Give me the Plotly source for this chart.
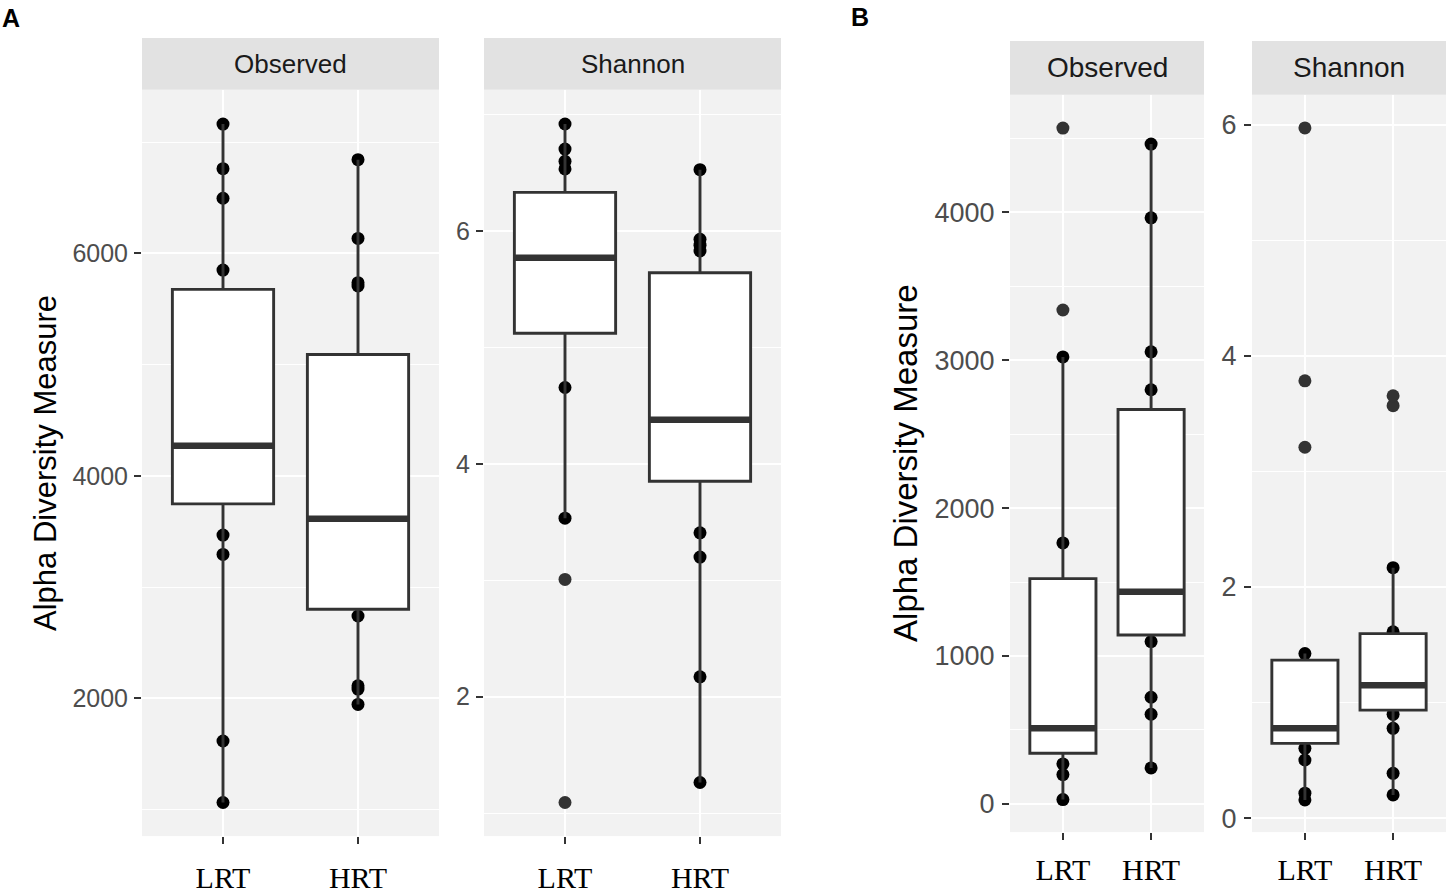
import plotly.graph_objects as go

# === Data ===
groups = ["LRT", "HRT"]

# --- Panel A: Observed ---
a_obs_q1 = [3749, 2801]
a_obs_median = [4272, 3614]
a_obs_q3 = [5677, 5091]
a_obs_low = [1064, 1946]
a_obs_high = [7163, 6843]
a_obs_lrt_points = [7163, 6762, 6496, 5850, 3468, 3294, 1617, 1064]
a_obs_hrt_points = [6843, 6135, 5737, 5707, 2741, 2114, 2084, 1946]
a_obs_lrt_outliers = []
a_obs_hrt_outliers = []

# --- Panel A: Shannon ---
a_sha_q1 = [5.123, 3.852]
a_sha_median = [5.772, 4.380]
a_sha_q3 = [6.334, 5.643]
a_sha_low = [3.534, 1.263]
a_sha_high = [6.921, 6.529]
a_sha_lrt_points = [6.921, 6.706, 6.600, 6.535, 4.657, 3.534]
a_sha_hrt_points = [6.529, 5.93, 5.88, 5.83, 3.408, 3.200, 2.171, 1.263]
a_sha_lrt_outliers = [3.008, 1.091]
a_sha_hrt_outliers = []

# --- Panel B: Observed ---
b_obs_q1 = [342, 1142]
b_obs_median = [512, 1434]
b_obs_q3 = [1523, 2666]
b_obs_low = [29, 243]
b_obs_high = [3022, 4461]
b_obs_lrt_points = [3022, 1764, 270, 198, 29]
b_obs_hrt_points = [4461, 3962, 3056, 2800, 1097, 721, 606, 243]
b_obs_lrt_outliers = [4569, 3339]
b_obs_hrt_outliers = []

# --- Panel B: Shannon ---
b_sha_q1 = [0.647, 0.935]
b_sha_median = [0.777, 1.151]
b_sha_q3 = [1.367, 1.597]
b_sha_low = [0.158, 0.201]
b_sha_high = [1.424, 2.167]
b_sha_lrt_points = [1.424, 0.604, 0.503, 0.216, 0.158]
b_sha_hrt_points = [2.167, 1.612, 0.898, 0.777, 0.388, 0.201]
b_sha_lrt_outliers = [5.972, 3.784, 3.209]
b_sha_hrt_outliers = [3.655, 3.569]

W, H = 1446, 894
BOX_LINE = "#333333"


def px_x(v):
    return v / W


def px_y(v):
    return 1 - v / H


def dots(fig, ax, lrt, hrt, color):
    # dots drawn as a box trace with an invisible box, so they stack in the
    # box layer (under the real boxes, like geom_point + geom_boxplot)
    xs = ["LRT"] * len(lrt) + ["HRT"] * len(hrt)
    ys = list(lrt) + list(hrt)
    if not ys:
        return
    fig.add_trace(go.Box(
        x=xs, y=ys, xaxis="x" + ax, yaxis="y" + ax,
        boxpoints="all", jitter=0, pointpos=0, width=0.75,
        marker=dict(color=color, size=13, line=dict(width=0)),
        line=dict(width=0), fillcolor="rgba(0,0,0,0)",
        showlegend=False, hoveron="points",
    ))


def add_panel(fig, ax, q1, med, q3, low, high, lrt_pts, hrt_pts, lrt_out, hrt_out):
    dots(fig, ax, lrt_pts, hrt_pts, "black")
    fig.add_trace(go.Box(
        x=groups, q1=q1, median=med, q3=q3, lowerfence=low, upperfence=high,
        xaxis="x" + ax, yaxis="y" + ax, width=0.75, whiskerwidth=0,
        fillcolor="white", line=dict(color=BOX_LINE, width=2.9),
        boxpoints=False, showlegend=False,
    ))
    # thicker median bar (ggplot fatten)
    fig.add_trace(go.Box(
        x=groups, q1=med, median=med, q3=med, lowerfence=med, upperfence=med,
        xaxis="x" + ax, yaxis="y" + ax, width=0.75, whiskerwidth=0,
        fillcolor="rgba(0,0,0,0)", line=dict(color=BOX_LINE, width=6.5),
        boxpoints=False, showlegend=False,
    ))
    dots(fig, ax, lrt_out, hrt_out, BOX_LINE)


fig = go.Figure()
add_panel(fig, "", a_obs_q1, a_obs_median, a_obs_q3, a_obs_low, a_obs_high,
          a_obs_lrt_points, a_obs_hrt_points, a_obs_lrt_outliers, a_obs_hrt_outliers)
add_panel(fig, "2", a_sha_q1, a_sha_median, a_sha_q3, a_sha_low, a_sha_high,
          a_sha_lrt_points, a_sha_hrt_points, a_sha_lrt_outliers, a_sha_hrt_outliers)
add_panel(fig, "3", b_obs_q1, b_obs_median, b_obs_q3, b_obs_low, b_obs_high,
          b_obs_lrt_points, b_obs_hrt_points, b_obs_lrt_outliers, b_obs_hrt_outliers)
add_panel(fig, "4", b_sha_q1, b_sha_median, b_sha_q3, b_sha_low, b_sha_high,
          b_sha_lrt_points, b_sha_hrt_points, b_sha_lrt_outliers, b_sha_hrt_outliers)


# === Axes ===
def x_axis(x0, x1, anchor, standoff):
    return dict(
        domain=[px_x(x0), px_x(x1)], anchor=anchor, type="category",
        categoryorder="array", categoryarray=groups, range=[-0.6, 1.6],
        showgrid=True, gridcolor="white", gridwidth=2.4, zeroline=False,
        ticks="outside", ticklen=7, tickwidth=2.4, tickcolor=BOX_LINE,
        ticklabelstandoff=standoff,
        tickfont=dict(family="Liberation Serif", size=30, color="black"),
    )


def y_axis(top, bottom, anchor, rng, dtick, minor, size, standoff):
    return dict(
        domain=[px_y(bottom), px_y(top)], anchor=anchor, range=rng,
        tick0=0, dtick=dtick,
        minor=dict(tick0=0, dtick=minor, showgrid=True, gridcolor="white", gridwidth=1.4),
        showgrid=True, gridcolor="white", gridwidth=2.4, zeroline=False,
        ticks="outside", ticklen=7, tickwidth=2.4, tickcolor=BOX_LINE,
        ticklabelstandoff=standoff,
        tickfont=dict(family="Liberation Sans", size=size, color="#4D4D4D"),
    )


fig.update_layout(
    width=W, height=H, autosize=False,
    margin=dict(l=0, r=0, t=0, b=0),
    paper_bgcolor="white", plot_bgcolor="#F2F2F2",
    boxmode="overlay", showlegend=False,
    xaxis=x_axis(142, 439, "y", 8),
    yaxis=y_axis(90, 838, "x", [762, 7471], 2000, 1000, 25, 1),
    xaxis2=x_axis(484, 781, "y2", 8),
    yaxis2=y_axis(90, 838, "x2", [0.802, 7.215], 2, 1, 25, 1),
    xaxis3=x_axis(1010, 1204, "y3", 4),
    yaxis3=y_axis(95, 834, "x3", [-191, 4794], 1000, 500, 27, 2),
    xaxis4=x_axis(1252, 1446, "y4", 4),
    yaxis4=y_axis(95, 834, "x4", [-0.121, 6.259], 2, 1, 27, 2),
)

# === Facet strips ===
strips = [
    (142, 439, 38, 90, "Observed", 26),
    (484, 781, 38, 90, "Shannon", 26),
    (1010, 1204, 41, 95, "Observed", 28),
    (1252, 1446, 41, 95, "Shannon", 28),
]
for x0, x1, y0, y1, label, size in strips:
    fig.add_shape(type="rect", xref="paper", yref="paper",
                  x0=px_x(x0), x1=px_x(x1), y0=px_y(y1), y1=px_y(y0),
                  fillcolor="#E2E2E2", line=dict(width=0), layer="below")
    fig.add_annotation(x=px_x((x0 + x1) / 2), y=px_y((y0 + y1) / 2), xref="paper", yref="paper",
                       text=label, showarrow=False, xanchor="center", yanchor="middle",
                       font=dict(family="Liberation Sans", size=size, color="#1A1A1A"))

# === Axis titles and panel letters ===
for xc, size in [(46, 31), (906, 33)]:
    fig.add_annotation(x=px_x(xc), y=px_y(464), xref="paper", yref="paper",
                       text="Alpha Diversity Measure", textangle=-90, showarrow=False,
                       xanchor="center", yanchor="middle",
                       font=dict(family="Liberation Sans", size=size, color="black"))

for letter, xl, yl in [("A", 0, 18), ("B", 849, 17)]:
    fig.add_annotation(x=px_x(xl), y=px_y(yl), xref="paper", yref="paper",
                       text="<b>%s</b>" % letter, showarrow=False,
                       xanchor="left", yanchor="middle",
                       font=dict(family="Liberation Sans", size=25, color="black"))

# no body margin, no scrollbars, and the figure sized to the actual viewport
fit_page = """
document.body.style.margin = '0';
document.body.style.overflow = 'hidden';
document.documentElement.style.overflow = 'hidden';
var gd = document.getElementById('{plot_id}');
Plotly.relayout(gd, {width: window.innerWidth, height: window.innerHeight});
"""

fig.write_html("out.html", config={"displayModeBar": False}, post_script=fit_page)
